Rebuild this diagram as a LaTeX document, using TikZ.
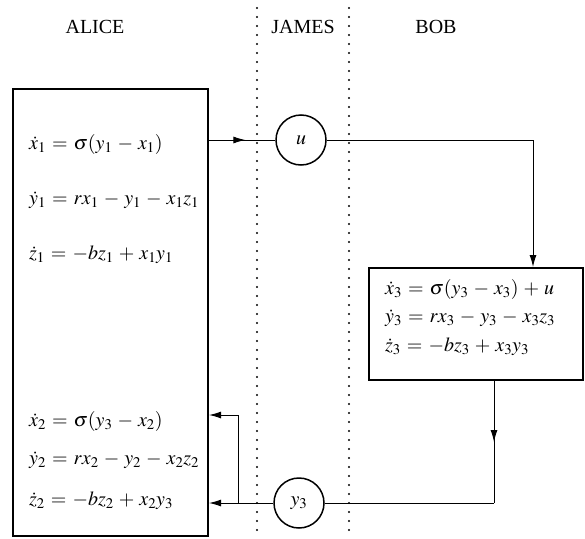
\documentclass[tikz,border=0pt]{standalone}
\usepackage{mathptmx}
\usepackage{fontspec}
\setmainfont{Liberation Serif}
\usetikzlibrary{arrows.meta,decorations.markings}
\begin{document}
\begin{tikzpicture}[x=1pt,y=-1pt,
  heavybox/.style={draw,line width=2pt,inner sep=0pt},
  agent/.style={draw,circle,line width=1.5pt,minimum size=50pt,inner sep=0pt,font=\fontsize{20}{24}\selectfont},
  conn/.style={line width=1pt},
  tip/.style={-{Latex[length=12pt,width=7pt]}},
  midtip/.style={decoration={markings,mark=at position #1 with {\arrow{Latex[length=12pt,width=7pt]}}},postaction={decorate}},
  divider/.style={line width=2.2pt,line cap=round,dash pattern=on 0pt off 9pt},
  head/.style={font=\fontsize{20}{24}\selectfont},
  eqn/.style={anchor=west,inner sep=0pt,font=\fontsize{20}{24}\selectfont}]
\useasboundingbox (0,0) rectangle (585,538);
\medmuskip=4.5mu plus 2mu
\thickmuskip=5.5mu plus 3mu
% dividers
\coordinate (d1t) at (257,8); \coordinate (d1b) at (257,538);
\coordinate (d2t) at (349,8); \coordinate (d2b) at (349,538);
\draw[divider] (d1t) -- (d1b);
\draw[divider] (d2t) -- (d2b);
% headers
\node[head] (hA) at (95,27) {ALICE};
\node[head] (hJ) at (303,27) {JAMES};
\node[head] (hB) at (436,27) {BOB};
% boxes
\node[heavybox,minimum width=195pt,minimum height=447pt] (alice) at (110.5,312.5) {};
\node[heavybox,minimum width=214pt,minimum height=112pt] (bob) at (476,324) {};
% equations
\node[eqn] (a1) at (29,144) {$\dot{x}_1 = \sigma(y_1 - x_1)$};
\node[eqn] (a2) at (29,200) {$\dot{y}_1 = rx_1 - y_1 - x_1z_1$};
\node[eqn] (a3) at (29,255) {$\dot{z}_1 = -bz_1 + x_1y_1$};
\node[eqn] (a4) at (29,421) {$\dot{x}_2 = \sigma(y_3 - x_2)$};
\node[eqn] (a5) at (29,460) {$\dot{y}_2 = rx_2 - y_2 - x_2z_2$};
\node[eqn] (a6) at (29,501) {$\dot{z}_2 = -bz_2 + x_2y_3$};
\node[eqn] (b1) at (385,289) {$\dot{x}_3 = \sigma(y_3 - x_3) + u$};
\node[eqn] (b2) at (385,318) {$\dot{y}_3 = rx_3 - y_3 - x_3z_3$};
\node[eqn] (b3) at (385,347) {$\dot{z}_3 = -bz_3 + x_3y_3$};
% circles
\node[agent] (u) at (301,140) {$u$};
\node[agent] (y3) at (299,503) {$y_3$};
% connectors
\coordinate (ur) at (533,140);
\coordinate (bd) at (494,503);
\coordinate (br) at (238,503);
\coordinate (bt) at (238,415);
\draw[conn,midtip=0.55] (alice.east |- u.west) -- (u.west);
\draw[conn,tip] (u.east) -- (ur) -- (bob.north -| ur);
\draw[conn,midtip=0.5] (bob.south -| bd) -- (bd);
\draw[conn] (bd) -- (y3.east);
\draw[conn,tip] (y3.west) -- (alice.east |- y3.west);
\draw[conn,tip] (br) -- (bt) -- (alice.east |- bt);
\end{tikzpicture}
\end{document}
